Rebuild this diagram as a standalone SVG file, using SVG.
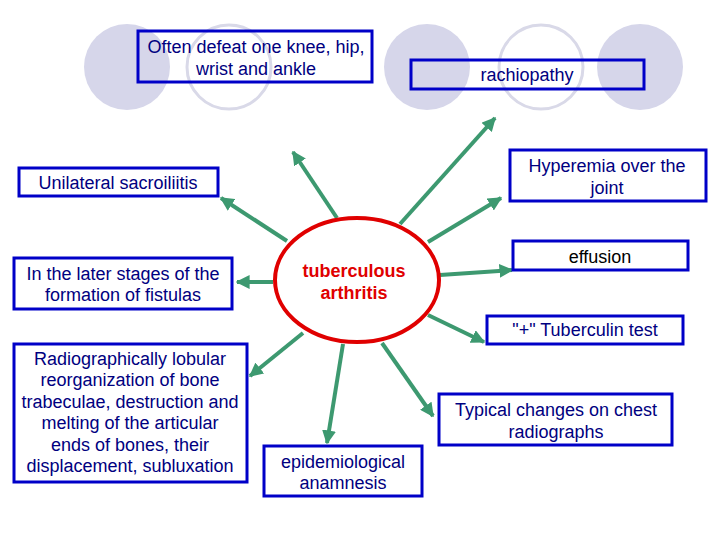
<svg xmlns="http://www.w3.org/2000/svg" width="720" height="540" viewBox="0 0 720 540">
<defs>
<style>
.bg{fill:#d6d6ea}
.ring{fill:none;stroke:#d9d9e8;stroke-width:3}
.box{fill:none;stroke:#0000c8;stroke-width:3}
.t{font-family:"Liberation Sans",Arial,sans-serif;font-size:18px;fill:#000080;text-anchor:middle}
.k{fill:#000}
.c{font-family:"Liberation Sans",Arial,sans-serif;font-size:18px;font-weight:bold;fill:#e00000;text-anchor:middle}
.ar{stroke:#3d9970;stroke-width:4;fill:none;marker-end:url(#ah)}
</style>
<marker id="ah" viewBox="0 0 10 10" refX="9" refY="5" markerWidth="3.5" markerHeight="3.5" orient="auto" markerUnits="strokeWidth">
<path d="M0,0 L10,5 L0,10 z" fill="#3d9970"/>
</marker>
</defs>
<rect width="720" height="540" fill="#fff"/>
<g id="background">
<circle class="bg" cx="127" cy="67" r="43"/>
<circle class="ring" cx="229" cy="67" r="42"/>
<circle class="bg" cx="427" cy="67" r="43"/>
<circle class="ring" cx="541" cy="67" r="42"/>
<circle class="bg" cx="640" cy="67" r="43"/>
</g>
<g id="connectors">
<line class="ar" x1="287" y1="241" x2="221" y2="198"/>
<line class="ar" x1="337" y1="218" x2="293" y2="152"/>
<line class="ar" x1="400" y1="224" x2="495" y2="118"/>
<line class="ar" x1="428" y1="242" x2="501" y2="198"/>
<line class="ar" x1="440" y1="275" x2="512" y2="270"/>
<line class="ar" x1="428" y1="315" x2="484" y2="342"/>
<line class="ar" x1="382" y1="343" x2="433" y2="416"/>
<line class="ar" x1="343" y1="344" x2="327" y2="443"/>
<line class="ar" x1="303" y1="333" x2="250" y2="376"/>
<line class="ar" x1="273" y1="282" x2="237" y2="282"/>
</g>
<g id="center">
<ellipse cx="357" cy="280" rx="82" ry="62" fill="#fff" stroke="#e00000" stroke-width="4"/>
<text class="c" x="354" y="277">tuberculous</text>
<text class="c" x="354" y="299">arthritis</text>
</g>
<g id="n-often">
<rect class="box" x="138" y="31" width="234" height="51"/>
<text class="t" x="256" y="53">Often defeat one knee, hip,</text>
<text class="t" x="256" y="75">wrist and ankle</text>
</g>
<g id="n-rachiopathy">
<rect class="box" x="411" y="60" width="233" height="29"/>
<text class="t" x="527" y="81">rachiopathy</text>
</g>
<g id="n-sacroiliitis">
<rect class="box" x="19" y="168" width="199" height="28"/>
<text class="t" x="118" y="189">Unilateral sacroiliitis</text>
</g>
<g id="n-fistulas">
<rect class="box" x="14" y="258" width="218" height="51"/>
<text class="t" x="123" y="280">In the later stages of the</text>
<text class="t" x="123" y="301">formation of fistulas</text>
</g>
<g id="n-hyperemia">
<rect class="box" x="510" y="150" width="196" height="51"/>
<text class="t" x="607" y="172">Hyperemia over the</text>
<text class="t" x="607" y="194">joint</text>
</g>
<g id="n-effusion">
<rect class="box" x="513" y="241" width="175" height="29"/>
<text class="t k" x="600" y="263">effusion</text>
</g>
<g id="n-tuberculin">
<rect class="box" x="487" y="316" width="196" height="28"/>
<text class="t" x="585" y="336">"+" Tuberculin test</text>
</g>
<g id="n-radiographic">
<rect class="box" x="14" y="344" width="233" height="138"/>
<text class="t" x="130" y="365">Radiographically lobular</text>
<text class="t" x="130" y="386">reorganization of bone</text>
<text class="t" x="130" y="408">trabeculae, destruction and</text>
<text class="t" x="130" y="429">melting of the articular</text>
<text class="t" x="130" y="451">ends of bones, their</text>
<text class="t" x="130" y="472">displacement, subluxation</text>
</g>
<g id="n-epidemiological">
<rect class="box" x="264" y="446" width="158" height="50"/>
<text class="t" x="343" y="468">epidemiological</text>
<text class="t" x="343" y="489">anamnesis</text>
</g>
<g id="n-chest">
<rect class="box" x="439" y="394" width="233" height="51"/>
<text class="t" x="556" y="416">Typical changes on chest</text>
<text class="t" x="556" y="438">radiographs</text>
</g>
</svg>
